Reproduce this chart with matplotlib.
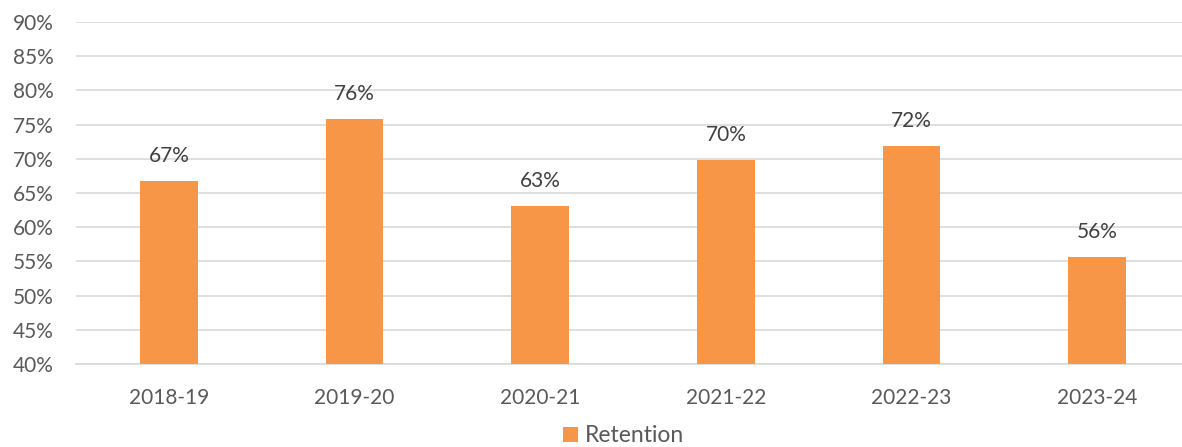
import matplotlib
matplotlib.use("Agg")
import matplotlib.pyplot as plt
from matplotlib.patches import Patch
from matplotlib.ticker import MultipleLocator, FuncFormatter

categories = ["2018-19", "2019-20", "2020-21", "2021-22", "2022-23", "2023-24"]
retention = [66.7, 75.8, 63.1, 69.8, 71.8, 55.6]
labels = ["67%", "76%", "63%", "70%", "72%", "56%"]

plt.rcParams['font.family'] = ['Lato', 'DejaVu Sans']

W, H = 1182, 447
fig = plt.figure(figsize=(W / 100, H / 100), dpi=100)
ax = fig.add_axes([76 / W, 1 - 364 / H, 1114 / W, 342 / H])

orange = "#F79646"
x = range(len(categories))
bars = ax.bar(x, retention, width=0.31, color=orange, zorder=3)

for xi, v, lab in zip(x, retention, labels):
    ax.annotate(lab, (xi, v), xytext=(0, 11), textcoords="offset points",
                ha="center", va="bottom", fontsize=15, color="#404040")

ax.set_ylim(40, 90)
ax.set_xlim(-0.5, len(categories) - 0.5)
ax.yaxis.set_major_locator(MultipleLocator(5))
ax.yaxis.set_major_formatter(FuncFormatter(lambda v, p: f"{int(round(v))}%"))
ax.set_xticks(list(x))
ax.set_xticklabels(categories)
ax.grid(axis="y", color="#D9D9D9", linewidth=1.2, zorder=0)
for s in ["top", "right", "left"]:
    ax.spines[s].set_visible(False)
ax.spines["bottom"].set_color("#D9D9D9")
ax.spines["bottom"].set_linewidth(1.2)
ax.tick_params(axis="both", length=0, labelsize=15, labelcolor="#595959")
ax.tick_params(axis="x", pad=17)
ax.tick_params(axis="y", pad=16)

handle = Patch(facecolor=orange, label="Retention")
fig.legend(handles=[handle], loc="center", bbox_to_anchor=(624 / W, 1 - 436 / H),
           frameon=False, fontsize=16.5, handlelength=0.65, handleheight=0.65,
           handletextpad=0.3, labelcolor="#595959", borderpad=0.1)

fig.savefig("out.png", dpi=100)
